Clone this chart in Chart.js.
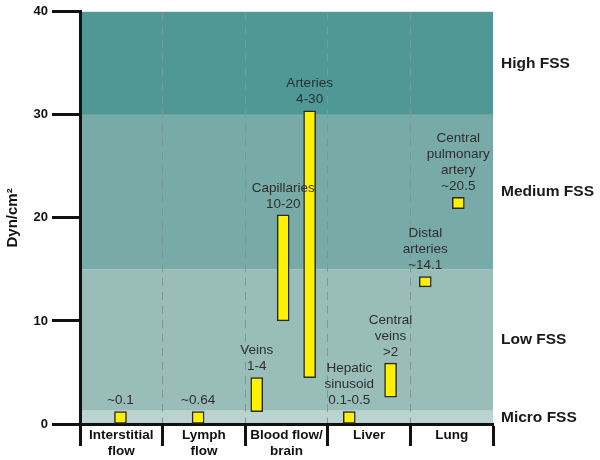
<!DOCTYPE html>
<html>
<head>
<meta charset="utf-8">
<script src="https://cdn.jsdelivr.net/npm/chart.js@4"></script>
<style>
    html, body { margin: 0; padding: 0; background: #ffffff; }
    #wrap { width: 600px; height: 460px; }
</style>
</head>
<body>
<div id="wrap"><canvas id="myChart"></canvas></div>
<script>
/* ===============================
   DATA
=============================== */
const categories = [
    ["Interstitial", "flow"],
    ["Lymph", "flow"],
    ["Blood flow/", "brain"],
    ["Liver"],
    ["Lung"]
];

const yTicks = [0, 10, 20, 30, 40];

// FSS ranges (shaded bands)
const bandNames = ["Micro FSS", "Low FSS", "Medium FSS", "High FSS"];
const bandLow = [0, 1.3, 15, 30];
const bandHigh = [1.3, 15, 30, 40];

// floating bars: position along the 5 columns (0..5), low and high values
const barX = [0.49, 1.43, 2.14, 2.46, 2.78, 3.26, 3.76, 4.18, 4.58];
const barLow = [0, 0, 1.2, 10, 4.5, 0, 2.6, 13.3, 20.9];
const barHigh = [1.2, 1.2, 4.5, 20.3, 30.4, 1.2, 5.9, 14.3, 22.0];
const barText = [
    ["~0.1"],
    ["~0.64"],
    ["Veins", "1-4"],
    ["Capillaries", "10-20"],
    ["Arteries", "4-30"],
    ["Hepatic", "sinusoid", "0.1-0.5"],
    ["Central", "veins", ">2"],
    ["Distal", "arteries", "~14.1"],
    ["Central", "pulmonary", "artery", "~20.5"]
];

/* ===============================
   STYLE
=============================== */
const FONT = "'Liberation Sans', Arial, sans-serif";
const bandColors = ["#bad4d0", "#99bdb9", "#78aba8", "#4f9896"];

/* ===============================
   PLUGIN: bands + labels
=============================== */
const fssPlugin = {
    id: "fss",
    beforeDraw(chart) {
        const c = chart.ctx;
        const area = chart.chartArea;
        const y = chart.scales.y;

        c.save();
        for (let i = 0; i < bandNames.length; i++) {
            const top = y.getPixelForValue(bandHigh[i]);
            const bottom = y.getPixelForValue(bandLow[i]);
            c.fillStyle = bandColors[i];
            c.fillRect(area.left, top, area.right - area.left, bottom - top);

            c.fillStyle = "#1a1a1a";
            c.font = "bold 15.5px " + FONT;
            c.textAlign = "left";
            c.textBaseline = "middle";
            c.fillText(bandNames[i], area.right + 8, y.getPixelForValue((bandLow[i] + bandHigh[i]) / 2));
        }
        c.restore();
    },
    afterDatasetsDraw(chart) {
        const c = chart.ctx;
        const x = chart.scales.x;
        const y = chart.scales.y;

        c.save();
        c.fillStyle = "#2e2e2e";
        c.font = "13.5px " + FONT;
        c.textAlign = "center";
        c.textBaseline = "middle";
        for (let i = 0; i < barText.length; i++) {
            const px = x.getPixelForValue(barX[i]);
            const last = y.getPixelForValue(barHigh[i]) - 11;
            const lines = barText[i];
            for (let j = 0; j < lines.length; j++) {
                c.fillText(lines[j], px, last - (lines.length - 1 - j) * 16);
            }
        }
        c.restore();
    }
};

/* ===============================
   CHART
=============================== */
const ctx = document.getElementById("myChart");

const myChart = new Chart(ctx, {
    type: "bar",
    data: {
        datasets: [
            {
                data: barX.map((v, i) => ({ x: v, y: [barLow[i], barHigh[i]] })),
                backgroundColor: "#fff200",
                borderColor: "#2a2a2a",
                borderWidth: 1.5,
                borderSkipped: false,
                barThickness: 12,
                grouped: false
            }
        ]
    },
    options: {
        responsive: true,
        maintainAspectRatio: false,
        animation: false,
        layout: {
            padding: { top: 10, right: 107, left: 0, bottom: 0 }
        },
        plugins: {
            legend: { display: false },
            tooltip: { enabled: false }
        },
        scales: {
            x: {
                type: "linear",
                display: false,
                min: 0,
                max: 5,
                offset: false
            },
            x2: {
                type: "category",
                labels: categories,
                position: "bottom",
                offset: true,
                afterFit: scale => { scale.height = 36; },
                grid: {
                    offset: true,
                    color: c => (c.type === "tick" && c.index > 0) ? "#7a9996" : "rgba(0,0,0,0)",
                    lineWidth: 1,
                    tickColor: "#111111",
                    tickWidth: 3,
                    tickLength: 22
                },
                border: {
                    display: true,
                    color: "#111111",
                    width: 3,
                    dash: [8, 6]
                },
                ticks: {
                    color: "#111111",
                    padding: -19,
                    maxRotation: 0,
                    autoSkip: false,
                    font: { family: FONT, size: 13.5, weight: "bold", lineHeight: 1.2 }
                }
            },
            y: {
                min: 0,
                max: 40,
                afterFit: scale => { scale.width = 80; },
                afterBuildTicks: scale => {
                    scale.ticks = yTicks.map(v => ({ value: v }));
                },
                grid: {
                    drawOnChartArea: false,
                    tickColor: "#111111",
                    tickWidth: 3,
                    tickLength: 28
                },
                border: {
                    color: "#111111",
                    width: 3
                },
                ticks: {
                    color: "#111111",
                    padding: 4,
                    font: { family: FONT, size: 13, weight: "bold" }
                },
                title: {
                    display: true,
                    text: "Dyn/cm²",
                    color: "#111111",
                    padding: { top: 4, bottom: 0 },
                    font: { family: FONT, size: 15, weight: "bold" }
                }
            }
        }
    },
    plugins: [fssPlugin]
});
</script>
</body>
</html>
